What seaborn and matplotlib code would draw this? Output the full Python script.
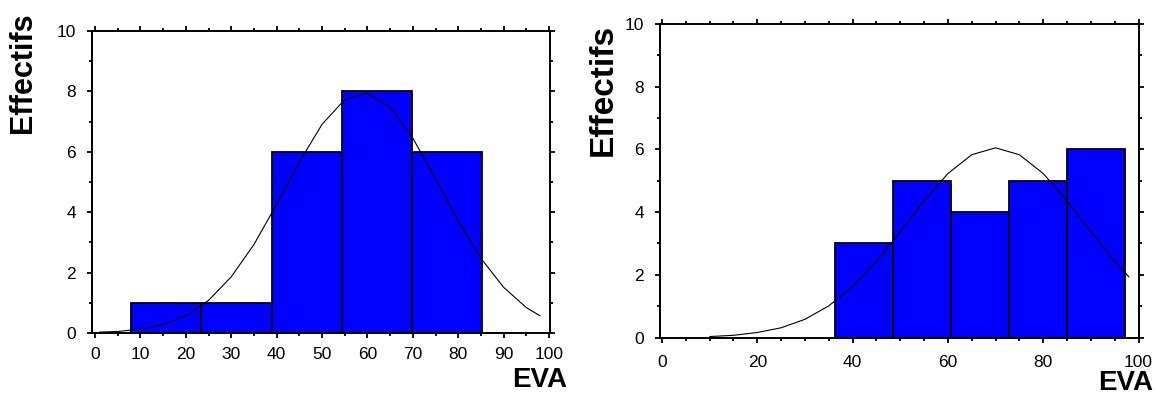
import numpy as np
import pandas as pd
import matplotlib
matplotlib.use("Agg")
import matplotlib.pyplot as plt
import seaborn as sns
from matplotlib.ticker import MultipleLocator

# ---------------- data ----------------
left_edges = [7.9, 23.4, 38.9, 54.3, 69.8, 85.3]
left_counts = [1, 1, 6, 8, 6]
left_curve_x = [1, 5, 10, 15, 20, 25, 30, 35, 40, 45, 50, 55, 60, 65, 70, 75, 80, 85, 90, 95, 98]
left_curve_y = [0.03, 0.05, 0.13, 0.28, 0.57, 1.08, 1.86, 2.93, 4.26, 5.66, 6.91, 7.73, 7.94,
                7.47, 6.45, 5.11, 3.71, 2.47, 1.51, 0.84, 0.57]

right_edges = [36.4, 48.5, 60.6, 72.8, 84.9, 97.1]
right_counts = [3, 5, 4, 5, 6]
right_curve_x = [10, 15, 20, 25, 30, 35, 40, 45, 50, 55, 60, 65, 70, 75, 80, 85, 90, 95, 98]
right_curve_y = [0.03, 0.07, 0.16, 0.31, 0.58, 1.01, 1.62, 2.43, 3.37, 4.36, 5.23, 5.83, 6.05,
                 5.83, 5.23, 4.36, 3.37, 2.43, 1.93]

y_label = "Effectifs"
x_label = "EVA"

# ---------------- style ----------------
sns.set_style("ticks")
plt.rcParams['font.family'] = ['Liberation Sans', 'DejaVu Sans']
plt.rcParams['text.color'] = 'black'
plt.rcParams['xtick.color'] = 'black'
plt.rcParams['ytick.color'] = 'black'
plt.rcParams['axes.labelcolor'] = 'black'

W, H = 1157, 398
fig = plt.figure(figsize=(W / 100, H / 100), dpi=100, facecolor="white")


def px_axes(x0, x1, ytop, ybot):
    return fig.add_axes([x0 / W, (H - ybot) / H, (x1 - x0) / W, (ybot - ytop) / H])


def draw(ax, edges, counts, cx, cy, xlim, xmajor):
    centers = [(edges[i] + edges[i + 1]) / 2 for i in range(len(counts))]
    df = pd.DataFrame({"x": centers, "w": counts})
    sns.histplot(data=df, x="x", weights="w", bins=edges, stat="count",
                 color="#0000ff", edgecolor="black", linewidth=1.3, alpha=1.0, ax=ax)
    cdf = pd.DataFrame({"x": cx, "y": cy})
    sns.lineplot(data=cdf, x="x", y="y", color="black", linewidth=0.8, ax=ax, sort=False)
    ax.set_xlim(*xlim)
    ax.set_ylim(0, 10)
    ax.set_xlabel("")
    ax.set_ylabel("")
    ax.xaxis.set_major_locator(MultipleLocator(xmajor))
    ax.xaxis.set_minor_locator(MultipleLocator(5))
    ax.yaxis.set_major_locator(MultipleLocator(2))
    ax.yaxis.set_minor_locator(MultipleLocator(1))
    for s in ax.spines.values():
        s.set_visible(True)
        s.set_linewidth(1.4)
        s.set_color("black")
    ax.tick_params(which="both", direction="out", top=True, right=True,
                   labeltop=False, labelright=False, width=1.3, color="black",
                   labelcolor="black")
    ax.tick_params(which="major", length=3.6, labelsize=12.5)
    ax.tick_params(which="minor", length=2.2)
    ax.set_facecolor("white")


axL = px_axes(92, 550, 31, 333)
draw(axL, left_edges, left_counts, left_curve_x, left_curve_y, (-0.66, 100.2), 10)
axL.tick_params(axis="x", which="major", pad=6.5)
axL.tick_params(axis="y", which="major", pad=8)

axR = px_axes(660, 1139, 24, 337.5)
draw(axR, right_edges, right_counts, right_curve_x, right_curve_y, (-0.42, 100.1), 20)
axR.tick_params(axis="x", which="major", pad=9)
axR.tick_params(axis="y", which="major", pad=8)

# axis titles
fig.text(23 / W, 1 - 73 / H, y_label, rotation=90, ha="center", va="center",
         fontsize=22, fontweight="bold", color="black")
fig.text(603 / W, 1 - 90 / H, y_label, rotation=90, ha="center", va="center",
         fontsize=24, fontweight="bold", color="black")
fig.text(567 / W, 1 - 387 / H, x_label, ha="right", va="baseline",
         fontsize=20, fontweight="bold", color="black")
fig.text(1153 / W, 1 - 390 / H, x_label, ha="right", va="baseline",
         fontsize=20, fontweight="bold", color="black")

fig.savefig("out.png", dpi=100, facecolor="white")
